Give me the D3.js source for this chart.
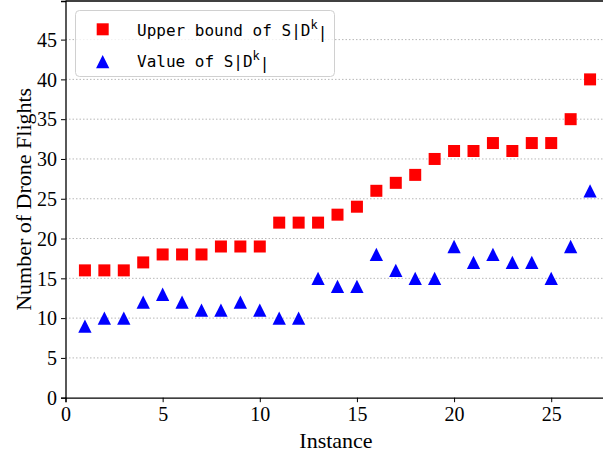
<!DOCTYPE html>
<html>
<head>
<meta charset="utf-8">
<script src="https://cdn.jsdelivr.net/npm/d3@7"></script>
<style>
  html, body { margin: 0; padding: 0; background: #fff; }
  svg { display: block; }
</style>
</head>
<body>
<svg id="chart" width="603" height="454"></svg>
<script>
// Instances 1..27
const instances = d3.range(1, 28);
// Upper bound of S|D^k per instance
const upperBound = [16, 16, 16, 17, 18, 18, 18, 19, 19, 19, 22, 22, 22, 23, 24, 26, 27, 28, 30, 31, 31, 32, 31, 32, 32, 35, 40];
// Observed value of S|D^k per instance
const actualValue = [9, 10, 10, 12, 13, 12, 11, 11, 12, 11, 10, 10, 15, 14, 14, 18, 16, 15, 15, 19, 17, 18, 17, 17, 15, 19, 26];
const xTicks = [0, 5, 10, 15, 20, 25];
const yTicks = [0, 5, 10, 15, 20, 25, 30, 35, 40, 45];

const svg = d3.select("#chart");
const plotLeft = 65.5, plotBottom = 397.7, plotTop = 1, plotRight = 609.5;

const x = d3.scaleLinear().domain([0, 28]).range([plotLeft, plotRight]);
const y = d3.scaleLinear().domain([0, 49.85]).range([plotBottom, plotTop]);

const serif = "'Liberation Serif', 'Times New Roman', serif";
const mono = "'DejaVu Sans Mono', monospace";

// horizontal dotted grid
svg.append("g")
  .selectAll("line")
  .data(yTicks.filter(d => d > 0))
  .join("line")
  .attr("x1", plotLeft).attr("x2", 603)
  .attr("y1", d => y(d)).attr("y2", d => y(d))
  .attr("stroke", "#b8b8b8")
  .attr("stroke-width", 1)
  .attr("stroke-dasharray", "1.5,2");

// axes
const xAxis = svg.append("g")
  .attr("transform", `translate(0,${plotBottom})`)
  .call(d3.axisBottom(x).tickValues(xTicks).tickSize(4.5).tickPadding(5).tickFormat(d3.format("d")));
const yAxis = svg.append("g")
  .attr("transform", `translate(${plotLeft},0)`)
  .call(d3.axisLeft(y).tickValues(yTicks).tickSize(4.5).tickPadding(4).tickFormat(d3.format("d")));

[xAxis, yAxis].forEach(g => {
  g.attr("font-family", serif).attr("font-size", 20);
  g.select(".domain").attr("stroke", "#000").attr("stroke-width", 1.3);
  g.selectAll(".tick line").attr("stroke", "#000").attr("stroke-width", 1);
  g.selectAll(".tick text").attr("fill", "#000").style("font-family", serif);
});
yAxis.selectAll(".tick text").attr("dy", "0.34em");

// top spine
svg.append("line")
  .attr("x1", plotLeft).attr("x2", 603)
  .attr("y1", plotTop).attr("y2", plotTop)
  .attr("stroke", "#000").attr("stroke-width", 1.5);

// axis titles
svg.append("text")
  .attr("x", 336).attr("y", 447.5)
  .attr("text-anchor", "middle")
  .style("font-family", serif).style("font-size", "22px")
  .text("Instance");
svg.append("text")
  .attr("transform", `translate(31,${(plotTop + plotBottom) / 2}) rotate(-90)`)
  .attr("text-anchor", "middle")
  .style("font-family", serif).style("font-size", "22px")
  .text("Number of Drone Flights");

const sq = 12;
// upward triangle centred on its bounding box, equal width and height
const triUp = {
  draw(context, size) {
    const r = Math.sqrt(size) / 2;
    context.moveTo(0, -r);
    context.lineTo(r, r);
    context.lineTo(-r, r);
    context.closePath();
  }
};
const triangle = d3.symbol().type(triUp).size(13.3 * 13.3);

// upper-bound squares
svg.append("g")
  .selectAll("rect")
  .data(instances)
  .join("rect")
  .attr("x", (d, i) => x(d) - sq / 2)
  .attr("y", (d, i) => y(upperBound[i]) - sq / 2)
  .attr("width", sq).attr("height", sq)
  .attr("fill", "#ff0000");

// value triangles
svg.append("g")
  .selectAll("path")
  .data(instances)
  .join("path")
  .attr("d", triangle)
  .attr("transform", (d, i) => `translate(${x(d)},${y(actualValue[i])})`)
  .attr("fill", "#0000ff");

// legend
const legend = svg.append("g");
legend.append("rect")
  .attr("x", 75.5).attr("y", 10.5)
  .attr("width", 259).attr("height", 66)
  .attr("rx", 4)
  .attr("fill", "#fff").attr("fill-opacity", 0.8)
  .attr("stroke", "#d0d0d0").attr("stroke-width", 1);

legend.append("rect")
  .attr("x", 102.7 - sq / 2).attr("y", 29.3 - sq / 2)
  .attr("width", sq).attr("height", sq)
  .attr("fill", "#ff0000");
legend.append("path")
  .attr("d", triangle)
  .attr("transform", "translate(102.7,61.7)")
  .attr("fill", "#0000ff");

const labels = ["Upper bound of S|D", "Value of S|D"];
const baselines = [36, 66.5];
labels.forEach((t, i) => {
  const txt = legend.append("text")
    .attr("x", 137).attr("y", baselines[i])
    .style("font-family", mono).style("font-size", "16px")
    .attr("fill", "#000");
  txt.append("tspan").text(t);
  txt.append("tspan").attr("dy", "-0.55em").style("font-size", "12px").text("k");
  txt.append("tspan").attr("dy", "0.55em").text("|");
});
</script>
</body>
</html>
